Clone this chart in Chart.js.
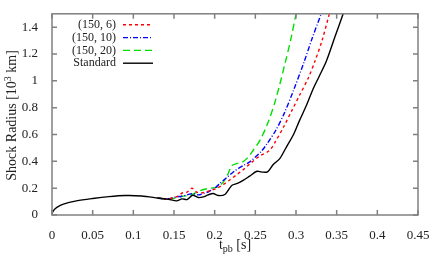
<!DOCTYPE html>
<html>
<head>
<meta charset="utf-8">
<script src="https://cdn.jsdelivr.net/npm/chart.js@4"></script>
<style>
  body { margin: 0; background: #fff; }
  #wrap { width: 436px; height: 262px; }
</style>
</head>
<body>
<div id="wrap"><canvas id="myChart"></canvas></div>
<script>
// standard run
const tStd = [0, 0.002, 0.006, 0.014, 0.03, 0.05, 0.07, 0.09, 0.11, 0.13, 0.145, 0.153, 0.16, 0.166, 0.173, 0.18, 0.186, 0.192, 0.198, 0.205, 0.213, 0.221, 0.228, 0.235, 0.243, 0.252, 0.258, 0.265, 0.272, 0.28, 0.289, 0.297, 0.304, 0.313, 0.321, 0.329, 0.337, 0.348, 0.358];
const rStd = [0.01, 0.035, 0.057, 0.081, 0.105, 0.123, 0.137, 0.145, 0.142, 0.127, 0.115, 0.105, 0.12, 0.115, 0.147, 0.13, 0.135, 0.15, 0.16, 0.145, 0.155, 0.22, 0.235, 0.258, 0.29, 0.326, 0.32, 0.322, 0.376, 0.42, 0.516, 0.6, 0.7, 0.82, 0.94, 1.04, 1.142, 1.33, 1.5];
// (150, 6)
const t6 = [0.13, 0.14, 0.149, 0.155, 0.16, 0.166, 0.172, 0.178, 0.184, 0.19, 0.196, 0.203, 0.21, 0.219, 0.227, 0.235, 0.245, 0.256, 0.267, 0.274, 0.285, 0.295, 0.305, 0.315, 0.323, 0.332, 0.341];
const r6 = [0.127, 0.118, 0.128, 0.14, 0.164, 0.17, 0.2, 0.17, 0.165, 0.175, 0.184, 0.2, 0.225, 0.263, 0.3, 0.337, 0.39, 0.442, 0.479, 0.54, 0.66, 0.78, 0.9, 1.02, 1.142, 1.3, 1.5];
// (150, 10)
const t10 = [0.13, 0.14, 0.153, 0.16, 0.166, 0.173, 0.18, 0.186, 0.193, 0.2, 0.207, 0.215, 0.225, 0.235, 0.244, 0.258, 0.264, 0.275, 0.285, 0.297, 0.31, 0.32, 0.331];
const r10 = [0.127, 0.118, 0.135, 0.14, 0.15, 0.16, 0.15, 0.16, 0.175, 0.2, 0.238, 0.28, 0.33, 0.368, 0.4, 0.479, 0.528, 0.63, 0.75, 0.93, 1.142, 1.32, 1.5];
// (150, 20)
const t20 = [0.13, 0.14, 0.15, 0.16, 0.17, 0.178, 0.186, 0.195, 0.203, 0.21, 0.216, 0.221, 0.228, 0.235, 0.241, 0.247, 0.256, 0.265, 0.275, 0.287, 0.294, 0.3];
const r20 = [0.127, 0.118, 0.125, 0.14, 0.147, 0.17, 0.19, 0.2, 0.208, 0.24, 0.3, 0.368, 0.385, 0.398, 0.43, 0.479, 0.56, 0.68, 0.86, 1.142, 1.32, 1.5];

const seriesNames = ['(150, 6)', '(150, 10)', '(150, 20)', 'Standard'];
const xTicks = [0, 0.05, 0.1, 0.15, 0.2, 0.25, 0.3, 0.35, 0.4, 0.45];
const yTicks = [0, 0.2, 0.4, 0.6, 0.8, 1, 1.2, 1.4];

const pts = (ts, rs) => ts.map((t, i) => ({x: t, y: rs[i]}));
const serif = '"Liberation Serif", "DejaVu Serif", serif';

const mk = (name, ts, rs, color, dash) => ({
    label: name, data: pts(ts, rs), borderColor: color, borderWidth: 1.4,
    borderDash: dash, pointRadius: 0, fill: false, tension: 0.3
});

const data = {
    datasets: [
        mk(seriesNames[3], tStd, rStd, '#000000', []),
        mk(seriesNames[0], t6, r6, '#ff0000', [3, 3]),
        mk(seriesNames[1], t10, r10, '#0000ff', [5, 2, 1, 2]),
        mk(seriesNames[2], t20, r20, '#00e000', [7, 4])
    ]
};

// frame, inward ticks, axis titles and legend in gnuplot style
const decor = {
    id: 'decor',
    afterDraw(chart) {
        const ctx = chart.ctx, a = chart.chartArea;
        const xs = chart.scales.x, ys = chart.scales.y;
        ctx.save();
        ctx.strokeStyle = '#808080';
        ctx.lineWidth = 1.5;
        ctx.strokeRect(a.left, a.top, a.right - a.left, a.bottom - a.top);
        ctx.beginPath();
        xTicks.forEach(v => {
            const px = xs.getPixelForValue(v);
            ctx.moveTo(px, a.bottom); ctx.lineTo(px, a.bottom - 5);
            ctx.moveTo(px, a.top); ctx.lineTo(px, a.top + 5);
        });
        yTicks.forEach(v => {
            const py = ys.getPixelForValue(v);
            ctx.moveTo(a.left, py); ctx.lineTo(a.left + 5, py);
            ctx.moveTo(a.right, py); ctx.lineTo(a.right - 5, py);
        });
        ctx.stroke();

        ctx.fillStyle = '#222';
        ctx.textBaseline = 'alphabetic';
        // x title: t_pb [s]
        const f = '14px ' + serif, fs = '10px ' + serif;
        ctx.font = f;
        const w1 = ctx.measureText('t').width, w3 = ctx.measureText(' [s]').width;
        ctx.font = fs;
        const w2 = ctx.measureText('pb').width;
        let x0 = (a.left + a.right) / 2 - (w1 + w2 + w3) / 2;
        const by = 249;
        ctx.textAlign = 'left';
        ctx.font = f; ctx.fillText('t', x0, by);
        ctx.font = fs; ctx.fillText('pb', x0 + w1, by + 3);
        ctx.font = f; ctx.fillText(' [s]', x0 + w1 + w2, by);

        // y title: Shock Radius [10^3 km]
        ctx.save();
        ctx.translate(16, (a.top + a.bottom) / 2 + 1);
        ctx.rotate(-Math.PI / 2);
        ctx.font = f;
        const p1 = 'Shock Radius [10', p3 = ' km]';
        const u1 = ctx.measureText(p1).width, u3 = ctx.measureText(p3).width;
        ctx.font = fs;
        const u2 = ctx.measureText('3').width;
        let s0 = -(u1 + u2 + u3) / 2;
        ctx.font = f; ctx.fillText(p1, s0, 0);
        ctx.font = fs; ctx.fillText('3', s0 + u1, -5);
        ctx.font = f; ctx.fillText(p3, s0 + u1 + u2, 0);
        ctx.restore();

        // legend
        const order = [1, 2, 3, 0];
        ctx.font = '12px ' + serif;
        ctx.textAlign = 'right';
        ctx.textBaseline = 'middle';
        order.forEach((di, i) => {
            const ds = chart.data.datasets[di];
            const y = a.top + 11 + i * 12.8;
            ctx.fillStyle = '#222';
            ctx.fillText(ds.label, a.left + 64, y);
            ctx.strokeStyle = ds.borderColor;
            ctx.lineWidth = 1.4;
            ctx.setLineDash(ds.borderDash);
            ctx.beginPath();
            ctx.moveTo(a.left + 71, y); ctx.lineTo(a.left + 101, y);
            ctx.stroke();
        });
        ctx.setLineDash([]);
        ctx.restore();
    }
};

const config = {
    type: 'line',
    data: data,
    options: {
        responsive: true,
        maintainAspectRatio: false,
        animation: false,
        layout: { padding: { top: 12, right: 18, left: 0, bottom: 0 } },
        plugins: { legend: { display: false }, tooltip: { enabled: false } },
        scales: {
            x: {
                type: 'linear', min: 0, max: 0.45,
                grid: { display: false }, border: { display: false },
                afterFit: s => { s.height = 47; },
                afterBuildTicks: s => { s.ticks = xTicks.map(v => ({value: v})); },
                ticks: {
                    padding: 5, color: '#222', maxRotation: 0,
                    font: { family: serif, size: 13 },
                    callback: v => String(+v.toFixed(2))
                }
            },
            y: {
                type: 'linear', min: 0, max: 1.5,
                grid: { display: false }, border: { display: false },
                afterFit: s => { s.width = 52; },
                afterBuildTicks: s => { s.ticks = yTicks.map(v => ({value: v})); },
                ticks: {
                    padding: 6, color: '#222',
                    font: { family: serif, size: 13 },
                    callback: v => String(+v.toFixed(1))
                }
            }
        }
    },
    plugins: [decor]
};

const myChart = new Chart(document.getElementById('myChart'), config);
</script>
</body>
</html>
